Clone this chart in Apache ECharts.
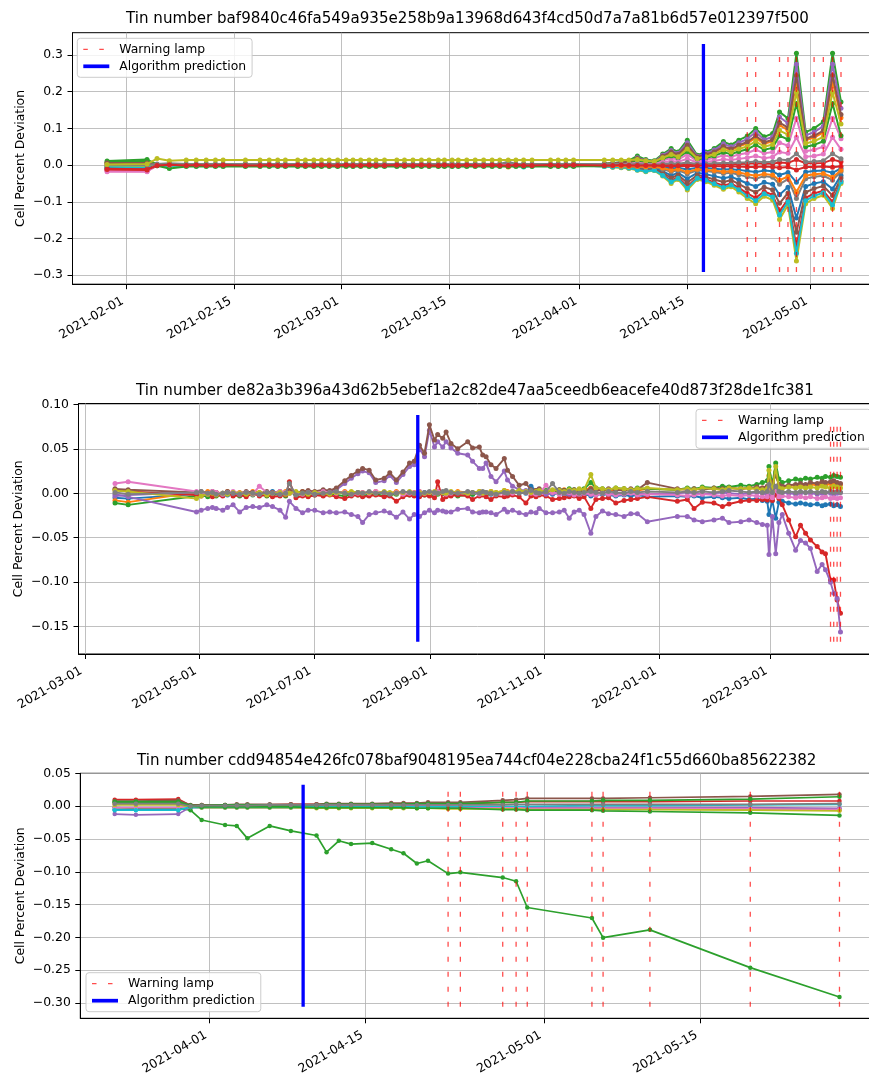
<!DOCTYPE html>
<html><head><meta charset="utf-8">
<script src="https://cdn.jsdelivr.net/npm/echarts@6/dist/echarts.min.js"></script>
<style>html,body{margin:0;padding:0;background:#fff;overflow:hidden;width:869px;height:1077px}#c{width:900px;height:1077px}</style>
</head><body><div id="c"></div>
<script>
// ---------------- DATA ----------------
const TITLE1 = 'Tin number baf9840c46fa549a935e258b9a13968d643f4cd50d7a7a81b6d57e012397f500';
const TITLE2 = 'Tin number de82a3b396a43d62b5ebef1a2c82de47aa5ceedb6eacefe40d873f28de1fc381';
const TITLE3 = 'Tin number cdd94854e426fc078baf9048195ea744cf04e228cba24f1c55d660ba85622382';
const LEGEND_NAMES = ['Warning lamp', 'Algorithm prediction'];
const Y_NAME = 'Cell Percent Deviation';

// Chart 1: days since 2021-02-01
const BASE1 = '2021-02-01T00:00:00Z';
const X1_TICKS = ['2021-02-01','2021-02-15','2021-03-01','2021-03-15','2021-04-01','2021-04-15','2021-05-01'];
const Y1_TICKS = [-0.3,-0.2,-0.1,0,0.1,0.2,0.3];
const D1_EARLY = [-2.5,2.7,4.0,5.6,7.8,9.1,10.4,11.6,12.6,15.5,
 17.4,18.6,19.7,20.7,22.3,23.3,24.4,25.4,26.4,27.5,
 28.6,29.5,30.5,31.6,32.5,33.6,35.2,36.2,37.3,38.4,
 39.4,40.6,41.4,42.4,43.2,44.3,45.4,46.5,47.6,48.6,
 49.7,50.7,51.7,52.8,55.2,56.2,57.2,58.2,62.2,63.3,
 64.4,65.4];
const D1_LATE = [66.5,67.6,68.7,69.8,70.9,71.8,73.0,74.3,75.4,76.5,
 77.7,78.7,79.7,80.8,81.9,83.0,84.1,85.0,86.1,87.2,
 88.4,89.5,90.7,91.9,93.0];
const LAMPS1 = [80.8,81.9,85.0,86.1,87.2,89.5,90.7,91.9,93.0];
const PRED1 = 75.1;
const LAMP1_RANGE = [-0.291, 0.309];
const PRED1_RANGE = [-0.291, 0.33];

const E1_blue = [-0.008,-0.010,-0.001,0.000,-0.001,-0.001,0.000,-0.001,-0.001,0.000,
 -0.001,-0.001,0.000,-0.001,-0.001,0.000,-0.001,-0.001,0.000,-0.001,
 -0.001,0.000,-0.001,-0.001,0.000,-0.001,-0.001,0.000,-0.001,-0.001,
 0.000,-0.001,-0.001,0.000,-0.001,-0.001,0.000,-0.001,-0.001,0.000,
 -0.001,-0.002,-0.001,-0.001,0.000,-0.001,-0.001,0.000,-0.002,-0.003,
 -0.002,-0.004];
const L1_blue = [-0.008,-0.010,-0.008,-0.017,-0.028,-0.021,-0.037,-0.021,-0.025,-0.030,-0.036,-0.032,-0.040,-0.050,-0.058,-0.047,-0.052,-0.081,-0.060,-0.144,-0.058,-0.050,-0.045,-0.065,-0.028];
const E1_orange = [-0.006,-0.008,0.001,0.002,0.001,0.001,0.002,0.001,0.001,0.002,
 0.001,0.001,0.002,0.001,0.001,0.002,0.001,0.001,0.002,0.001,
 0.001,0.002,0.001,0.001,0.002,0.001,0.001,0.002,0.001,0.001,
 0.002,0.001,0.001,0.002,0.001,0.001,0.002,0.001,0.001,0.001,
 -0.005,0.001,0.001,0.002,0.001,0.001,0.002,0.001,0.002,0.003,
 0.004,0.005];
const L1_orange = [0.016,0.011,0.009,0.022,0.034,0.027,0.051,0.020,0.027,0.034,0.048,0.041,0.051,0.059,0.075,0.058,0.065,0.109,0.095,0.229,0.068,0.075,0.089,0.229,0.129];
const E1_green = [0.011,0.015,0.002,0.001,0.001,0.001,0.001,0.001,0.001,0.001,
 0.001,0.001,0.001,0.001,0.001,0.001,0.001,0.001,0.001,0.001,
 0.001,0.001,0.001,0.001,0.001,0.001,0.001,0.001,0.001,0.001,
 0.001,0.001,0.001,0.001,0.001,0.001,0.001,0.001,0.001,0.001,
 0.002,0.001,0.001,0.001,0.001,0.002,0.001,0.002,0.004,0.006,
 0.008,0.012];
const L1_green = [0.025,0.015,0.012,0.030,0.045,0.036,0.068,0.027,0.036,0.045,0.064,0.055,0.068,0.079,0.100,0.077,0.086,0.145,0.127,0.305,0.090,0.100,0.118,0.305,0.172];
const E1_red = [-0.014,-0.015,-0.002,0.003,-0.001,-0.001,-0.002,-0.001,-0.001,-0.002,
 -0.001,-0.001,-0.002,-0.001,-0.001,-0.002,-0.001,-0.001,-0.002,-0.001,
 -0.001,-0.002,-0.001,-0.001,-0.002,-0.001,-0.001,-0.002,-0.001,-0.001,
 -0.002,-0.001,-0.001,-0.002,-0.001,-0.001,-0.002,-0.001,-0.001,-0.002,
 -0.001,-0.001,-0.002,-0.001,-0.001,-0.002,-0.001,-0.001,-0.003,-0.005,
 -0.006,-0.008];
const L1_red = [-0.012,-0.015,-0.013,-0.026,-0.043,-0.033,-0.058,-0.033,-0.038,-0.047,-0.056,-0.050,-0.062,-0.077,-0.089,-0.072,-0.081,-0.126,-0.093,-0.222,-0.089,-0.077,-0.070,-0.100,-0.043];
const E1_purple = [-0.004,-0.003,0.000,0.001,0.000,0.000,0.001,0.000,0.000,0.001,
 0.000,0.000,0.001,0.000,0.000,0.001,0.000,0.000,0.001,0.000,
 0.000,0.001,0.000,0.000,0.001,0.000,0.000,0.001,0.000,0.000,
 0.001,0.000,0.000,0.001,0.000,0.000,0.001,0.000,0.000,0.001,
 0.000,0.000,0.001,0.000,0.000,0.001,0.000,0.001,0.003,0.004,
 0.006,0.008];
const L1_purple = [0.020,0.013,0.010,0.027,0.040,0.032,0.061,0.024,0.032,0.041,0.058,0.050,0.061,0.071,0.090,0.069,0.077,0.131,0.114,0.275,0.081,0.090,0.106,0.275,0.155];
const E1_brown = [0.004,0.004,0.001,0.002,0.001,0.001,0.002,0.001,0.001,0.002,
 0.001,0.001,0.002,0.001,0.001,0.002,0.001,0.001,0.002,0.001,
 0.001,0.002,0.001,0.001,0.002,0.001,0.001,0.002,0.001,0.001,
 0.002,0.001,0.001,0.002,0.001,0.001,0.002,0.001,0.001,0.002,
 0.001,0.001,0.002,0.001,0.001,0.002,0.001,0.001,-0.002,-0.003,
 -0.005,-0.007];
const L1_brown = [-0.010,-0.013,-0.011,-0.021,-0.035,-0.027,-0.048,-0.027,-0.032,-0.039,-0.046,-0.041,-0.051,-0.064,-0.074,-0.060,-0.067,-0.104,-0.076,-0.183,-0.074,-0.064,-0.057,-0.083,-0.035];
const E1_pink = [-0.018,-0.018,0.000,0.001,0.001,0.000,0.001,0.001,0.000,0.001,
 0.001,0.000,0.001,0.001,0.000,0.001,0.001,0.000,0.001,0.001,
 0.000,0.001,0.001,0.000,0.001,0.001,0.000,0.001,0.001,0.000,
 0.001,0.001,0.000,0.001,0.001,0.000,0.001,0.001,0.000,0.001,
 0.001,0.000,0.001,0.001,0.000,0.001,0.001,0.001,0.002,0.003,
 0.004,0.006];
const L1_pink = [0.010,0.007,0.005,0.013,0.019,0.015,0.029,0.011,0.015,0.019,0.027,0.023,0.029,0.033,0.042,0.032,0.036,0.061,0.053,0.128,0.038,0.042,0.050,0.128,0.072];
const E1_gray = [-0.002,-0.002,0.000,-0.001,0.000,-0.001,0.000,-0.001,0.000,-0.001,
 0.000,-0.001,0.000,-0.001,0.000,-0.001,0.000,-0.001,0.000,-0.001,
 0.000,-0.001,0.000,-0.001,0.000,-0.001,0.000,-0.001,0.000,-0.001,
 0.000,-0.001,0.000,-0.001,0.000,-0.001,0.000,-0.001,0.000,-0.001,
 0.000,-0.001,0.000,-0.001,0.000,-0.001,0.000,-0.001,-0.002,-0.003,
 -0.003,-0.004];
const L1_gray = [-0.005,-0.006,-0.005,-0.011,-0.018,-0.014,-0.024,-0.014,-0.016,-0.019,-0.023,-0.021,-0.026,-0.032,-0.037,-0.030,-0.033,-0.052,-0.038,-0.091,-0.037,-0.032,-0.029,-0.041,-0.018];
const E1_olive = [-0.003,-0.004,0.000,-0.001,-0.001,0.000,-0.001,-0.001,0.000,-0.001,
 -0.001,0.000,-0.001,-0.001,0.000,-0.001,-0.001,0.000,-0.001,-0.001,
 0.000,-0.001,-0.001,0.000,-0.001,-0.001,0.000,-0.001,-0.001,0.000,
 -0.001,-0.001,0.000,-0.001,-0.001,0.000,-0.001,-0.001,0.000,-0.001,
 -0.001,0.000,-0.001,-0.001,0.000,-0.001,-0.001,-0.002,-0.004,-0.006,
 -0.007,-0.009];
const L1_olive = [-0.014,-0.018,-0.015,-0.030,-0.050,-0.039,-0.068,-0.039,-0.045,-0.055,-0.066,-0.059,-0.073,-0.091,-0.105,-0.085,-0.095,-0.148,-0.109,-0.261,-0.105,-0.091,-0.082,-0.118,-0.050];
const E1_cyan = [-0.006,-0.007,-0.001,-0.002,-0.001,-0.002,-0.001,-0.002,-0.001,-0.002,
 -0.001,-0.002,-0.001,-0.002,-0.001,-0.002,-0.001,-0.002,-0.001,-0.002,
 -0.001,-0.002,-0.001,-0.002,-0.001,-0.002,-0.001,-0.002,-0.001,-0.002,
 -0.001,-0.002,-0.001,-0.002,-0.001,-0.002,-0.001,-0.002,-0.001,-0.002,
 -0.001,-0.002,-0.005,-0.002,-0.001,-0.002,-0.001,-0.002,-0.004,-0.005,
 -0.006,-0.008];
const L1_cyan = [-0.013,-0.017,-0.014,-0.028,-0.046,-0.036,-0.063,-0.036,-0.041,-0.051,-0.061,-0.054,-0.067,-0.084,-0.097,-0.078,-0.087,-0.136,-0.100,-0.240,-0.097,-0.084,-0.075,-0.109,-0.046];
const E1_blue2 = [-0.010,-0.012,-0.001,0.000,0.000,-0.001,0.000,0.000,-0.001,0.000,
 0.000,-0.001,0.000,0.000,-0.001,0.000,0.000,-0.001,0.000,0.000,
 -0.001,0.000,0.000,-0.001,0.000,0.000,-0.001,0.000,0.000,-0.001,
 0.000,0.000,-0.001,0.000,0.000,-0.001,0.000,0.000,-0.001,0.000,
 0.000,-0.001,0.000,0.000,-0.001,0.000,0.000,-0.001,-0.001,-0.002,
 -0.002,-0.003];
const L1_blue2 = [-0.003,-0.003,-0.003,-0.005,-0.009,-0.007,-0.012,-0.007,-0.008,-0.010,-0.012,-0.011,-0.013,-0.016,-0.019,-0.015,-0.017,-0.027,-0.020,-0.047,-0.019,-0.016,-0.015,-0.021,-0.009];
const E1_orange2 = [0.006,0.007,0.001,0.000,0.001,0.001,0.000,0.001,0.001,0.000,
 0.001,0.001,0.000,0.001,0.001,0.000,0.001,0.001,0.000,0.001,
 0.001,0.000,0.001,0.001,0.000,0.001,0.001,0.000,0.001,0.001,
 0.000,0.001,0.001,0.000,0.001,0.001,0.000,0.001,0.001,0.000,
 -0.004,0.001,0.000,0.001,0.001,0.000,0.001,0.000,-0.001,-0.002,
 -0.003,-0.004];
const L1_orange2 = [-0.004,-0.005,-0.004,-0.008,-0.014,-0.011,-0.019,-0.011,-0.013,-0.015,-0.018,-0.017,-0.020,-0.025,-0.029,-0.024,-0.027,-0.041,-0.031,-0.073,-0.029,-0.025,-0.023,-0.033,-0.014];
const E1_green2 = [0.008,0.012,-0.002,-0.009,-0.004,-0.004,-0.004,-0.004,-0.004,-0.004,
 -0.004,-0.004,-0.004,-0.004,-0.004,-0.004,-0.004,-0.004,-0.004,-0.004,
 -0.004,-0.004,-0.004,-0.004,-0.004,-0.004,-0.004,-0.004,-0.004,-0.004,
 -0.004,-0.004,-0.004,-0.004,-0.004,-0.004,-0.004,-0.004,-0.004,-0.004,
 -0.004,-0.004,-0.004,-0.004,-0.004,-0.004,-0.004,-0.004,-0.002,0.002,
 0.004,0.008];
const L1_green2 = [0.012,0.008,0.007,0.017,0.025,0.020,0.037,0.015,0.020,0.025,0.035,0.030,0.037,0.043,0.055,0.042,0.047,0.080,0.070,0.168,0.050,0.055,0.065,0.168,0.080];
const E1_red2 = [-0.010,-0.011,0.000,0.003,0.000,0.001,0.000,0.000,0.001,0.000,
 0.000,0.001,0.000,0.000,0.001,0.000,0.000,0.001,0.000,0.000,
 0.001,0.000,0.000,0.001,0.000,0.000,0.001,0.000,0.000,0.001,
 0.000,0.000,0.001,0.000,0.000,0.001,0.000,0.000,0.001,0.000,
 0.000,0.001,0.000,0.000,0.001,0.000,0.000,0.001,0.001,0.002,
 0.001,0.002];
const L1_red2 = [0.002,0.001,0.001,0.002,0.002,0.002,0.003,0.001,0.002,0.002,0.003,0.003,0.003,0.004,0.005,0.004,0.004,0.007,0.006,0.015,0.005,0.005,0.006,0.015,0.009];
const E1_brown2 = [0.006,0.006,0.002,0.003,0.002,0.002,0.003,0.002,0.002,0.003,
 0.002,0.002,0.003,0.002,0.002,0.003,0.002,0.002,0.003,0.002,
 0.002,0.003,0.002,0.002,0.003,0.002,0.002,0.003,0.002,0.002,
 0.003,0.002,0.002,0.003,0.002,0.002,0.003,0.002,0.002,0.003,
 0.002,0.002,0.003,0.002,0.002,0.003,0.002,0.003,0.004,0.005,
 0.007,0.009];
const L1_brown2 = [0.018,0.012,0.009,0.024,0.036,0.029,0.054,0.022,0.029,0.036,0.051,0.044,0.054,0.063,0.080,0.062,0.069,0.116,0.102,0.244,0.072,0.080,0.094,0.244,0.138];
const E1_pink2 = [-0.016,-0.017,0.001,0.000,0.000,0.001,0.000,0.000,0.001,0.000,
 0.000,0.001,0.000,0.000,0.001,0.000,0.000,0.001,0.000,0.000,
 0.001,0.000,0.000,0.001,0.000,0.000,0.001,0.000,0.000,0.001,
 0.000,0.000,0.001,0.000,0.000,0.001,0.000,0.000,0.001,0.000,
 0.000,0.001,0.000,0.000,0.001,0.000,0.000,0.001,0.001,0.002,
 0.002,0.003];
const L1_pink2 = [0.006,0.004,0.003,0.008,0.011,0.009,0.017,0.007,0.009,0.011,0.016,0.014,0.017,0.020,0.025,0.019,0.022,0.036,0.032,0.076,0.023,0.025,0.030,0.076,0.043];
const E1_gray2 = [0.000,0.000,0.003,0.005,0.003,0.003,0.003,0.003,0.003,0.003,
 0.003,0.003,0.003,0.003,0.003,0.003,0.003,0.003,0.003,0.003,
 0.003,0.003,0.003,0.003,0.003,0.003,0.003,0.003,0.003,0.003,
 0.003,0.003,0.003,0.003,0.003,0.003,0.003,0.003,0.003,0.003,
 0.009,0.003,0.003,0.003,0.003,0.003,0.003,0.003,0.003,0.003,
 0.002,0.002];
const L1_gray2 = [0.003,0.002,0.001,0.003,0.005,0.004,0.007,0.003,0.004,0.005,0.006,0.006,0.007,0.008,0.010,0.008,0.009,0.015,0.013,0.031,0.009,0.010,0.012,0.031,0.017];
const E1_olive2 = [0.002,0.003,0.018,0.012,0.014,0.014,0.014,0.014,0.014,0.014,
 0.014,0.014,0.014,0.014,0.014,0.014,0.014,0.014,0.014,0.014,
 0.014,0.014,0.014,0.014,0.014,0.014,0.014,0.014,0.014,0.014,
 0.014,0.014,0.014,0.014,0.014,0.014,0.014,0.014,0.014,0.014,
 0.014,0.014,0.014,0.014,0.014,0.014,0.014,0.014,0.014,0.014,
 0.014,0.014];
const L1_olive2 = [0.015,0.012,0.010,0.020,0.029,0.023,0.044,0.018,0.023,0.029,0.042,0.036,0.044,0.051,0.065,0.050,0.056,0.094,0.083,0.198,0.059,0.065,0.077,0.198,0.112];
const E1_red3 = [-0.012,-0.013,-0.001,0.001,-0.001,0.000,-0.001,-0.001,0.000,-0.001,
 -0.001,0.000,-0.001,-0.001,0.000,-0.001,-0.001,0.000,-0.001,-0.001,
 0.000,-0.001,-0.001,0.000,-0.001,-0.001,0.000,-0.001,-0.001,0.000,
 -0.001,-0.001,0.000,-0.001,-0.001,0.000,-0.001,-0.001,0.000,-0.001,
 -0.001,0.000,-0.001,-0.001,0.000,-0.001,-0.001,0.000,-0.001,-0.001,
 0.000,-0.001];
const L1_red3 = [-0.001,-0.001,-0.001,-0.002,-0.003,-0.002,-0.003,-0.002,-0.002,-0.003,-0.003,-0.003,-0.004,-0.005,-0.005,-0.004,-0.005,-0.007,-0.005,-0.013,-0.005,-0.005,-0.004,-0.006,-0.003];

// Chart 2: days since 2021-03-01
const BASE2 = '2021-03-01T00:00:00Z';
const X2_TICKS = ['2021-03-01','2021-05-01','2021-07-01','2021-09-01','2021-11-01','2022-01-01','2022-03-01'];
const Y2_TICKS = [-0.15,-0.10,-0.05,0,0.05,0.10];
const D2 = [16.1,23.1,59.5,62,65.5,68,70,73.5,76,79,
 82.5,86,89.5,93,97,100,104,107,109,112.5,
 116,119,122.5,127,130.5,134,138.5,142,145.5,148,
 151.5,155,159.5,162.5,166,169.5,173,175.5,178.3,181,
 183.6,186.3,188,190.7,192.5,195.1,198.7,204,206.6,210.2,
 212,213.8,216.4,219.1,223.5,225.2,227.9,231.4,235,237.7,
 240.4,242.1,245.7,249.2,252.8,255.4,258.1,260.7,263.4,266,
 269.6,272.3,275.8,279,282.9,287.3,290.9,294.4,299.7,315.7,
 321,324.6,329,335.2,339.7,343.2,349.5,353.9,358,361,
 363.6,364.5,366.3,368.1,369.8,371.6,375,378.7,381.3,384,
 386.6,390.2,392.8,394.6,397.3,399,400.8,402.6];
const LAMPS2 = [397.3,399,400.8,402.6];
const PRED2 = 177.4;
const LAMP2_RANGE = [-0.167, 0.081];
const PRED2_RANGE = [-0.167, 0.088];

const V2_blue = [-0.005,-0.006,-0.001,0.000,-0.002,0.001,-0.001,0.000,-0.002,0.001,
 0.000,-0.001,0.001,-0.001,0.000,0.002,-0.001,0.000,0.001,-0.001,
 0.000,0.001,-0.001,0.000,0.002,0.001,0.000,-0.001,0.001,0.000,
 -0.001,0.000,0.001,-0.001,0.000,0.001,0.000,-0.001,0.000,0.001,
 0.000,-0.001,0.001,0.000,-0.001,0.000,0.001,0.000,-0.001,0.000,
 0.001,0.000,-0.001,0.000,0.001,0.000,0.002,0.001,0.000,0.008,
 0.003,0.001,0.000,-0.001,0.000,-0.002,-0.001,0.000,-0.002,-0.001,
 -0.003,-0.002,-0.001,-0.002,-0.003,-0.002,-0.003,-0.002,-0.004,-0.003,
 -0.004,-0.003,-0.005,-0.004,-0.005,-0.006,-0.005,-0.007,-0.006,-0.008,
 -0.009,-0.024,-0.008,-0.028,-0.010,-0.009,-0.011,-0.012,-0.011,-0.012,
 -0.013,-0.012,-0.014,-0.013,-0.012,-0.014,-0.013,-0.015];
const V2_orange = [-0.008,-0.010,0.001,0.000,0.002,-0.001,0.001,0.000,0.002,-0.001,
 0.001,0.000,0.002,0.001,-0.001,0.000,0.001,0.002,0.000,0.001,
 0.002,0.000,0.001,-0.001,0.001,0.000,0.002,0.001,0.000,0.001,
 0.000,0.002,0.001,0.000,0.002,0.001,0.000,0.001,0.002,0.000,
 0.001,0.000,0.002,0.001,0.000,0.001,0.002,0.001,0.000,0.002,
 0.001,0.000,0.002,0.001,0.003,0.002,0.001,0.002,0.001,0.002,
 0.003,0.002,0.001,0.003,0.002,0.004,0.003,0.002,0.003,0.004,
 0.006,0.003,0.004,0.003,0.004,0.005,0.004,0.003,0.005,0.004,
 0.005,0.004,0.006,0.005,0.004,0.006,0.005,0.006,0.005,0.006,
 0.007,0.020,0.006,0.024,0.008,0.007,0.008,0.009,0.008,0.009,
 0.010,0.009,0.010,0.009,0.011,0.010,0.009,0.010];
const V2_green = [-0.011,-0.013,-0.003,-0.002,-0.004,-0.001,-0.003,-0.002,0.001,-0.002,
 -0.003,-0.001,-0.002,0.000,-0.003,-0.002,-0.001,-0.003,0.002,-0.002,
 -0.001,-0.003,-0.002,-0.001,0.000,-0.002,-0.003,-0.001,-0.002,-0.003,
 -0.002,-0.001,-0.003,-0.002,-0.001,0.001,-0.002,-0.001,-0.003,-0.002,
 -0.001,-0.002,-0.001,0.000,-0.002,-0.001,-0.003,-0.002,-0.001,0.001,
 -0.001,-0.002,0.000,-0.001,0.001,0.000,-0.001,0.002,0.001,0.003,
 0.002,0.001,0.003,0.002,0.004,0.003,0.005,0.004,0.003,0.005,
 0.012,0.006,0.005,0.004,0.006,0.005,0.004,0.006,0.005,0.004,
 0.006,0.005,0.007,0.006,0.008,0.007,0.009,0.008,0.010,0.012,
 0.014,0.030,0.010,0.034,0.016,0.012,0.014,0.016,0.015,0.017,
 0.016,0.018,0.017,0.019,0.018,0.020,0.019,0.018];
const V2_red = [0.004,0.002,-0.002,-0.003,-0.001,-0.004,-0.002,-0.003,0.001,-0.003,
 -0.002,-0.004,0.000,-0.003,-0.002,-0.004,-0.003,-0.002,0.013,-0.005,
 -0.003,-0.004,-0.002,-0.003,-0.002,-0.004,-0.006,-0.003,-0.002,-0.004,
 -0.003,-0.002,-0.004,-0.003,-0.009,-0.004,-0.002,-0.003,-0.004,-0.002,
 -0.003,-0.005,0.013,-0.007,-0.004,-0.003,-0.002,-0.003,-0.007,-0.003,
 -0.002,-0.004,-0.007,-0.003,-0.004,-0.003,-0.002,-0.004,-0.011,-0.003,
 -0.004,-0.002,-0.003,-0.007,-0.006,-0.005,-0.004,-0.003,-0.006,-0.004,
 -0.017,-0.007,-0.006,-0.005,-0.011,-0.008,-0.007,-0.006,-0.004,-0.009,
 -0.007,-0.017,-0.010,-0.011,-0.015,-0.012,-0.009,-0.008,-0.008,-0.007,
 -0.0075,-0.004,-0.008,-0.002,-0.006,-0.013,-0.030,-0.049,-0.036,-0.045,
 -0.0525,-0.060,-0.066,-0.068,-0.0975,-0.0975,-0.120,-0.135];
const V2_purpleHump = [-0.003,-0.002,0.001,0.000,-0.001,0.001,0.000,-0.001,0.001,0.000,
 -0.001,0.000,0.001,-0.001,0.000,0.001,-0.001,0.000,0.001,0.000,
 0.001,0.000,-0.001,0.001,0.002,0.004,0.011,0.017,0.022,0.025,
 0.023,0.012,0.014,0.020,0.012,0.021,0.030,0.032,0.050,0.041,
 0.071,0.052,0.058,0.052,0.058,0.051,0.045,0.043,0.036,0.028,
 0.028,0.034,0.019,0.013,0.025,0.015,0.008,0.004,0.003,0.001,
 0.000,0.001,-0.001,0.000,0.001,0.000,-0.001,0.000,0.001,0.000,
 -0.001,0.000,0.001,0.000,-0.001,0.000,0.001,0.000,-0.001,0.000,
 0.001,0.000,-0.001,0.000,0.001,0.000,-0.001,0.000,0.001,0.000,
 -0.001,0.003,-0.002,0.004,0.000,0.001,0.000,-0.001,0.000,0.001,
 0.000,-0.001,0.000,0.001,0.000,-0.001,0.000,0.001];
const V2_brown = [0.005,0.004,0.001,0.002,0.000,0.002,0.001,-0.001,0.002,0.001,
 0.000,0.002,0.001,0.000,0.002,0.001,0.002,0.000,0.003,0.001,
 0.002,0.003,0.002,0.004,0.003,0.006,0.014,0.020,0.025,0.028,
 0.026,0.015,0.017,0.023,0.015,0.024,0.034,0.036,0.054,0.045,
 0.077,0.060,0.066,0.062,0.069,0.056,0.050,0.058,0.051,0.052,
 0.043,0.041,0.032,0.028,0.039,0.026,0.019,0.009,0.011,0.004,
 0.003,0.005,0.002,0.003,0.004,0.003,0.002,0.004,0.003,0.002,
 0.005,0.004,0.003,0.005,0.004,0.003,0.005,0.004,0.012,0.005,
 0.004,0.005,0.004,0.006,0.005,0.006,0.005,0.006,0.007,0.006,
 0.008,0.015,0.012,0.020,0.010,0.008,0.009,0.010,0.011,0.010,
 0.012,0.011,0.013,0.012,0.013,0.014,0.012,0.011];
const V2_pink = [0.011,0.013,0.002,0.001,0.000,0.002,0.001,-0.001,0.001,0.002,
 0.000,0.001,-0.001,0.008,0.001,0.000,0.002,0.001,0.000,0.001,
 -0.001,0.001,0.000,0.002,0.001,0.000,0.001,-0.001,0.000,0.001,
 0.000,0.002,0.001,0.000,0.001,-0.001,0.000,0.001,0.002,0.000,
 0.001,0.000,0.002,0.001,-0.001,0.000,0.001,0.000,0.001,-0.001,
 0.000,0.001,0.000,-0.001,0.000,0.001,0.000,0.002,0.001,0.000,
 -0.001,0.000,0.009,0.001,-0.001,0.000,0.001,-0.002,-0.001,0.000,
 -0.001,-0.002,0.000,-0.001,-0.002,-0.001,0.000,-0.002,-0.001,-0.002,
 -0.003,-0.002,-0.001,-0.002,-0.003,-0.002,-0.003,-0.002,-0.003,-0.004,
 -0.004,0.006,-0.005,0.004,-0.004,-0.003,-0.004,-0.005,-0.004,-0.005,
 -0.004,-0.006,-0.005,-0.004,-0.006,-0.005,-0.006,-0.005];
const V2_olive = [0.003,0.002,-0.006,-0.003,-0.001,0.000,-0.002,0.000,-0.001,0.001,
 0.000,-0.001,0.000,0.001,-0.002,0.000,0.001,-0.001,0.000,0.002,
 0.000,-0.001,0.001,0.000,-0.001,0.001,0.000,0.002,0.001,0.000,
 0.001,0.000,0.002,0.001,0.000,0.001,0.002,0.000,0.001,0.000,
 0.001,0.002,0.000,0.001,0.000,0.002,0.001,0.000,0.001,0.002,
 0.000,0.001,0.002,0.001,0.003,0.001,0.002,0.003,0.002,0.001,
 0.002,0.003,0.002,0.004,0.003,0.002,0.004,0.003,0.005,0.004,
 0.021,0.006,0.005,0.004,0.006,0.005,0.004,0.005,0.006,0.004,
 0.005,0.004,0.006,0.005,0.004,0.006,0.005,0.006,0.005,0.004,
 0.005,0.026,0.002,0.030,0.006,0.005,0.007,0.006,0.007,0.006,
 0.007,0.006,0.008,0.007,0.006,0.008,0.007,0.006];
const V2_purpleLow = [-0.001,-0.004,-0.021,-0.019,-0.017,-0.016,-0.017,-0.019,-0.016,-0.013,
 -0.021,-0.016,-0.015,-0.016,-0.013,-0.015,-0.019,-0.027,-0.009,-0.017,
 -0.022,-0.019,-0.019,-0.022,-0.021,-0.022,-0.021,-0.024,-0.026,-0.033,
 -0.024,-0.022,-0.020,-0.022,-0.027,-0.021,-0.029,-0.024,-0.026,-0.022,
 -0.019,-0.022,-0.019,-0.020,-0.021,-0.021,-0.018,-0.017,-0.021,-0.022,
 -0.021,-0.021,-0.022,-0.024,-0.018,-0.021,-0.019,-0.022,-0.024,-0.021,
 -0.022,-0.017,-0.022,-0.022,-0.021,-0.019,-0.028,-0.021,-0.019,-0.024,
 -0.045,-0.026,-0.020,-0.023,-0.024,-0.026,-0.023,-0.023,-0.032,-0.026,
 -0.026,-0.030,-0.032,-0.030,-0.028,-0.033,-0.032,-0.030,-0.033,-0.035,
 -0.036,-0.069,-0.026,-0.068,-0.033,-0.024,-0.045,-0.064,-0.053,-0.056,
 -0.062,-0.088,-0.080,-0.086,-0.100,-0.1125,-0.118,-0.156];
const V2_gray = [0.001,-0.001,0.001,0.002,0.000,0.001,-0.001,0.000,0.001,0.000,
 -0.001,0.001,0.000,-0.001,0.001,0.000,-0.001,0.000,0.011,-0.002,
 0.000,0.001,-0.001,0.000,0.001,0.002,0.000,-0.001,0.001,0.000,
 0.002,0.000,0.001,-0.001,0.000,0.002,0.001,0.000,-0.001,0.001,
 0.002,0.001,0.000,0.002,0.003,0.001,0.000,0.002,0.001,0.000,
 0.002,0.001,0.000,-0.001,0.001,0.000,0.002,0.000,0.001,0.003,
 0.001,0.000,0.002,0.011,0.001,0.000,0.002,0.001,0.000,0.001,
 0.002,0.001,0.000,0.002,0.001,0.000,0.002,0.001,0.002,0.001,
 0.002,0.001,0.002,0.001,0.002,0.003,0.002,0.001,0.002,0.001,
 0.002,0.010,0.001,0.008,0.002,0.001,0.002,0.001,0.002,0.001,
 0.002,0.001,0.002,0.001,0.002,0.001,0.002,0.001];

// Chart 3: days since 2021-04-01
const BASE3 = '2021-04-01T00:00:00Z';
const X3_TICKS = ['2021-04-01','2021-04-15','2021-05-01','2021-05-15'];
const Y3_TICKS = [-0.30,-0.25,-0.20,-0.15,-0.10,-0.05,0,0.05];
const D3 = [-8.5,-6.6,-2.8,-1.7,-0.7,1.4,2.45,3.4,5.4,7.3,
 9.6,10.5,11.6,12.7,14.6,16.3,17.4,18.6,19.6,21.4,
 22.5,26.3,27.5,28.5,34.3,35.3,39.5,48.5,56.5];
const LAMPS3 = [21.4,22.5,26.3,27.5,28.5,34.3,35.3,39.5,48.5,56.5];
const PRED3 = 8.4;
const LAMP3_RANGE = [-0.306, 0.023];
const PRED3_RANGE = [-0.306, 0.033];

const V3_fail = [-0.002,-0.003,-0.003,-0.006,-0.021,-0.0286,-0.030,-0.049,-0.030,-0.0376,
 -0.0446,-0.070,-0.0527,-0.0577,-0.0562,-0.0657,-0.0717,-0.0873,-0.0832,-0.1028,
 -0.1008,-0.1088,-0.1144,-0.1545,-0.1705,-0.2006,-0.1886,-0.2463,-0.2910];
const V3_blue = [-0.005,-0.005,-0.005,-0.002,-0.002,-0.002,-0.002,-0.002,-0.002,-0.002,
 -0.002,-0.002,-0.002,-0.002,-0.002,-0.002,-0.002,-0.002,-0.002,-0.002,
 -0.002,-0.002,-0.002,-0.002,-0.003,-0.003,-0.003,-0.004,-0.004];
const V3_orange = [0.004,0.004,0.004,0.000,-0.001,-0.001,-0.001,-0.001,-0.001,-0.001,
 -0.001,-0.002,-0.002,-0.002,-0.002,-0.002,-0.002,-0.002,-0.002,-0.002,
 -0.003,-0.003,-0.003,-0.004,-0.004,-0.004,-0.004,-0.005,-0.006];
const V3_red = [0.010,0.010,0.011,0.001,0.002,0.002,0.002,0.002,0.002,0.003,
 0.003,0.003,0.003,0.003,0.003,0.003,0.004,0.004,0.004,0.004,
 0.004,0.006,0.006,0.007,0.007,0.007,0.007,0.008,0.008];
const V3_purple = [-0.012,-0.013,-0.012,-0.001,-0.001,-0.001,-0.001,-0.001,-0.001,-0.001,
 -0.001,-0.001,-0.001,-0.001,-0.001,-0.001,-0.001,-0.001,-0.001,-0.001,
 -0.001,-0.001,-0.001,-0.001,-0.002,-0.002,-0.002,-0.002,-0.003];
const V3_brown = [0.008,0.008,0.009,0.002,0.002,0.002,0.003,0.003,0.003,0.003,
 0.003,0.004,0.004,0.004,0.004,0.005,0.005,0.005,0.006,0.006,
 0.006,0.009,0.010,0.012,0.012,0.012,0.013,0.015,0.018];
const V3_pink = [-0.002,-0.002,-0.002,0.000,0.000,0.000,0.001,0.001,0.001,0.001,
 0.001,0.001,0.001,0.001,0.001,0.001,0.001,0.001,0.001,0.001,
 0.000,-0.002,-0.002,-0.003,-0.003,-0.003,-0.003,-0.004,-0.005];
const V3_olive = [0.002,0.002,0.002,-0.001,-0.002,-0.002,-0.002,-0.002,-0.002,-0.002,
 -0.003,-0.003,-0.003,-0.003,-0.003,-0.003,-0.003,-0.003,-0.003,-0.004,
 -0.004,-0.004,-0.004,-0.005,-0.005,-0.005,-0.005,-0.006,-0.007];
const V3_cyan = [-0.006,-0.006,-0.006,-0.001,-0.001,-0.001,-0.001,-0.001,-0.001,-0.001,
 -0.001,-0.001,-0.001,-0.001,-0.001,-0.001,-0.001,-0.001,-0.001,-0.001,
 0.000,0.000,0.000,0.000,0.001,0.001,0.001,0.002,0.003];
const V3_green2 = [0.006,0.006,0.006,0.000,-0.001,-0.001,-0.001,-0.001,-0.001,-0.001,
 -0.002,-0.002,-0.002,-0.002,-0.002,-0.002,-0.002,-0.003,-0.003,-0.003,
 -0.003,-0.005,-0.005,-0.006,-0.006,-0.007,-0.008,-0.010,-0.014];
const V3_green3 = [0.007,0.007,0.007,0.001,0.001,0.002,0.002,0.002,0.002,0.002,
 0.002,0.003,0.003,0.003,0.003,0.003,0.003,0.004,0.004,0.004,
 0.004,0.006,0.006,0.008,0.008,0.009,0.009,0.011,0.0145];
const V3_gray = [0.004,0.004,0.004,0.000,0.001,0.001,0.001,0.001,0.002,0.002,
 0.002,0.002,0.002,0.002,0.002,0.002,0.002,0.002,0.002,0.002,
 0.002,0.002,0.003,0.003,0.003,0.003,0.003,0.003,0.004];

// ---------------- RENDER ----------------
const C = {blue:'#1f77b4', orange:'#ff7f0e', green:'#2ca02c', red:'#d62728', purple:'#9467bd',
  brown:'#8c564b', pink:'#e377c2', gray:'#7f7f7f', olive:'#bcbd22', cyan:'#17becf'};
const FONT = "'DejaVu Sans', sans-serif";
const DAY = 86400000;
const tOf = (base, d) => Date.parse(base) + d * DAY;
const pairs = (base, days, vals) => days.map((d, i) => [tOf(base, d), vals[i]]);
const pad2 = n => String(n).padStart(2, '0');
const fmtDate = v => { const d = new Date(v); return d.getUTCFullYear() + '-' + pad2(d.getUTCMonth() + 1) + '-' + pad2(d.getUTCDate()); };
const fmtNum = (v, dec) => { let s = (Math.abs(v) < 1e-9 ? 0 : v).toFixed(dec); return s.replace('-', '\u2212'); };

let zc = 0;
function cell(gi, base, days, vals, color, lw, ss) {
  zc += 0.001;
  return {type:'line', xAxisIndex:gi, yAxisIndex:gi, data:pairs(base, days, vals),
    symbol:'circle', symbolSize:ss, showSymbol:true, lineStyle:{width:lw, color}, itemStyle:{color},
    z:2 + zc, silent:true, emphasis:{disabled:true}, animation:false};
}
function vline(gi, base, d, range, name, style) {
  return {type:'line', name, xAxisIndex:gi, yAxisIndex:gi,
    data:[[tOf(base, d), range[0]], [tOf(base, d), range[1]]],
    symbol:'none', lineStyle:style, itemStyle:{color:style.color}, z:5, silent:true, animation:false};
}
const LAMP_STYLE = {color:'rgba(255,0,0,0.7)', width:1.3, type:[5,10]};
const PRED_STYLE = {color:'#0000ff', width:3.3};

function xAx(gi, min, max, ticks) {
  const tv = ticks.map(s => Date.parse(s + 'T00:00:00Z'));
  return {type:'value', gridIndex:gi, min:Date.parse(min), max:Date.parse(max),
    axisLine:{show:true, onZero:false, lineStyle:{color:'#000', width:1}},
    axisTick:{show:true, inside:false, length:5, customValues:tv, lineStyle:{color:'#000', width:1}},
    axisLabel:{show:true, customValues:tv, formatter:fmtDate, rotate:30, margin:14, padding:[0,4,0,0],
      fontFamily:FONT, fontSize:12.4, color:'#000', showMinLabel:true, showMaxLabel:true, hideOverlap:false},
    splitLine:{show:true, lineStyle:{color:'#b0b0b0', width:0.8}}};
}
function yAx(gi, min, max, ticks, dec, gap) {
  return {type:'value', gridIndex:gi, min, max,
    name:Y_NAME, nameLocation:'middle', nameGap:gap, nameRotate:90, nameMoveOverlap:false,
    nameTextStyle:{fontFamily:FONT, fontSize:12.4, color:'#000'},
    axisLine:{show:true, onZero:false, lineStyle:{color:'#000', width:1}},
    axisTick:{show:true, length:5, customValues:ticks, lineStyle:{color:'#000', width:1}},
    axisLabel:{customValues:ticks, formatter:v => fmtNum(v, dec), margin:9.5, fontFamily:FONT, fontSize:12.4, color:'#000',
      showMinLabel:true, showMaxLabel:true},
    splitLine:{show:true, lineStyle:{color:'#b0b0b0', width:0.8}}};
}
function legendAt(left, top) {
  return {left, top, orient:'vertical', selectedMode:false, itemWidth:26, itemHeight:14, itemGap:5,
    padding:[5,6,5,6], backgroundColor:'rgba(255,255,255,0.8)', borderColor:'#cccccc', borderWidth:1, borderRadius:3,
    textStyle:{fontFamily:FONT, fontSize:12.4, color:'#000', padding:[0,0,0,5]},
    data:[
      {name:LEGEND_NAMES[0], icon:'path://M0,0h4.5v1.3h-4.5z M16,0h4.5v1.3h-4.5z M25.98,0h0.02v1.3h-0.02z', itemStyle:{color:'rgba(255,0,0,0.7)'}},
      {name:LEGEND_NAMES[1], icon:'path://M0,0h26v3.7h-26z', itemStyle:{color:'#0000ff'}}
    ]};
}
const titleStyle = {fontFamily:FONT, fontSize:15.1, fontWeight:'normal', color:'#000'};

const series = [];
const D1 = D1_EARLY.concat(D1_LATE);
[
  [E1_blue, L1_blue, C.blue], [E1_orange, L1_orange, C.orange], [E1_green, L1_green, C.green],
  [E1_red, L1_red, C.red], [E1_purple, L1_purple, C.purple], [E1_brown, L1_brown, C.brown],
  [E1_pink, L1_pink, C.pink], [E1_gray, L1_gray, C.gray], [E1_olive, L1_olive, C.olive],
  [E1_cyan, L1_cyan, C.cyan], [E1_blue2, L1_blue2, C.blue], [E1_orange2, L1_orange2, C.orange],
  [E1_green2, L1_green2, C.green], [E1_red2, L1_red2, C.red], [E1_brown2, L1_brown2, C.brown],
  [E1_pink2, L1_pink2, C.pink], [E1_gray2, L1_gray2, C.gray], [E1_olive2, L1_olive2, C.olive],
  [E1_red3, L1_red3, C.red]
].forEach(([e, l, c]) => series.push(cell(0, BASE1, D1, e.concat(l), c, 2, 5)));
LAMPS1.forEach(d => series.push(vline(0, BASE1, d, LAMP1_RANGE, LEGEND_NAMES[0], LAMP_STYLE)));
series.push(vline(0, BASE1, PRED1, PRED1_RANGE, LEGEND_NAMES[1], PRED_STYLE));
[
  [V2_blue, C.blue], [V2_orange, C.orange], [V2_green, C.green], [V2_red, C.red],
  [V2_purpleHump, C.purple], [V2_brown, C.brown], [V2_pink, C.pink], [V2_olive, C.olive],
  [V2_purpleLow, C.purple], [V2_gray, C.gray]
].forEach(([v, c]) => series.push(cell(1, BASE2, D2, v, c, 1.9, 5)));
LAMPS2.forEach(d => series.push(vline(1, BASE2, d, LAMP2_RANGE, LEGEND_NAMES[0], LAMP_STYLE)));
series.push(vline(1, BASE2, PRED2, PRED2_RANGE, LEGEND_NAMES[1], PRED_STYLE));
[
  [V3_blue, C.blue], [V3_orange, C.orange], [V3_fail, C.green], [V3_red, C.red],
  [V3_purple, C.purple], [V3_brown, C.brown], [V3_pink, C.pink], [V3_olive, C.olive],
  [V3_cyan, C.cyan], [V3_green2, C.green], [V3_green3, C.green], [V3_gray, C.gray]
].forEach(([v, c]) => series.push(cell(2, BASE3, D3, v, c, 1.7, 4.5)));
LAMPS3.forEach(d => series.push(vline(2, BASE3, d, LAMP3_RANGE, LEGEND_NAMES[0], LAMP_STYLE)));
series.push(vline(2, BASE3, PRED3, PRED3_RANGE, LEGEND_NAMES[1], PRED_STYLE));

const gridBase = {show:true, borderColor:'#000', borderWidth:1, backgroundColor:'transparent', containLabel:false};
const option = {
  animation:false, backgroundColor:'#ffffff',
  title:[
    {text:TITLE1, left:126, top:11.5, padding:0, textStyle:titleStyle},
    {text:TITLE2, left:136, top:383.5, padding:0, textStyle:titleStyle},
    {text:TITLE3, left:137, top:753.5, padding:0, textStyle:titleStyle}
  ],
  legend:[legendAt(77.3, 38.3), legendAt(696, 409.3), legendAt(86, 972.7)],
  grid:[
    Object.assign({left:72.5, top:32.7, width:805, height:251.5}, gridBase),
    Object.assign({left:78.5, top:403.5, width:798.2, height:250.5}, gridBase),
    Object.assign({left:80.3, top:773.3, width:795.6, height:248.4}, gridBase)
  ],
  xAxis:[
    xAx(0, '2021-01-25T00:00:00Z', '2021-05-09T18:00:00Z', X1_TICKS),
    xAx(1, '2021-02-25T15:36:00Z', '2022-04-26T21:36:00Z', X2_TICKS),
    xAx(2, '2021-03-20T10:00:00Z', '2021-05-30T18:24:00Z', X3_TICKS)
  ],
  yAxis:[
    yAx(0, -0.3245, 0.3608, Y1_TICKS, 1, 46),
    yAx(1, -0.1808, 0.101, Y2_TICKS, 2, 53.5),
    yAx(2, -0.3236, 0.0503, Y3_TICKS, 2, 53.3)
  ],
  series
};
const chart = echarts.init(document.getElementById('c'), null, {renderer:'canvas'});
chart.setOption(option);
</script></body></html>
